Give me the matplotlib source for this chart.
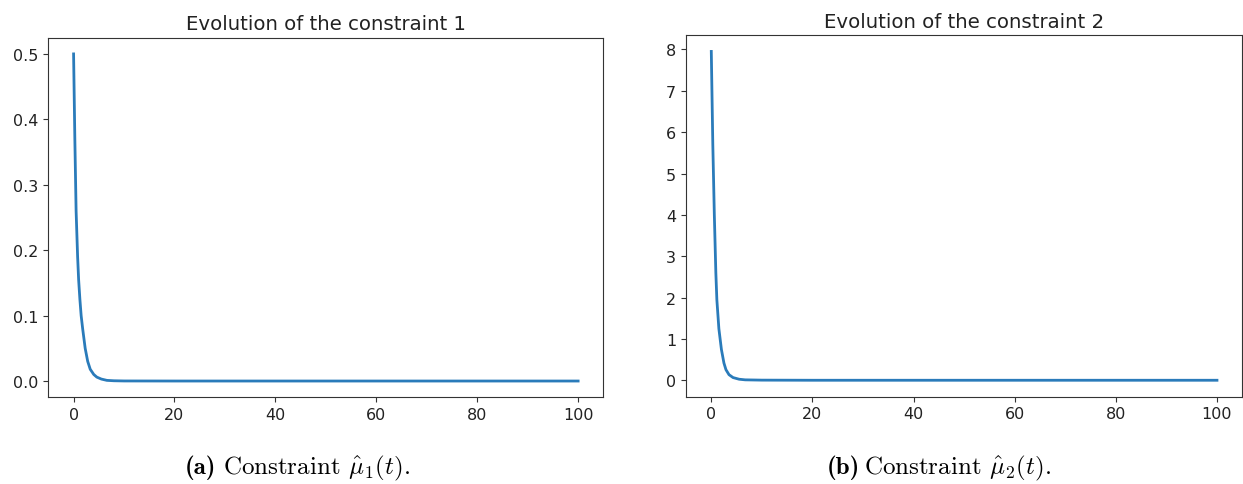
import matplotlib
matplotlib.use("Agg")
import matplotlib.pyplot as plt

plt.rcParams['mathtext.fontset'] = 'cm'

# values
t1 = [0, 0.25, 0.5, 0.8, 1.0, 1.25, 1.5, 1.8, 2.3, 2.8, 3.3, 4.0, 4.6, 5.5, 6.6, 8, 10, 20, 40, 60, 80, 100]
mu1 = [0.5, 0.37, 0.26, 0.19, 0.155, 0.125, 0.1, 0.08, 0.05, 0.03, 0.018, 0.01, 0.006, 0.003, 0.001,
       0.0004, 0.0001, 0.0, 0.0, 0.0, 0.0, 0.0]

t2 = [0, 0.3, 0.6, 0.9, 1.1, 1.5, 2.0, 2.5, 2.9, 3.5, 4.3, 5.5, 6.7, 10, 20, 40, 60, 80, 100]
mu2 = [7.95, 5.7, 4.0, 2.6, 1.95, 1.25, 0.75, 0.42, 0.26, 0.14, 0.07, 0.03, 0.015, 0.008,
       0.005, 0.005, 0.005, 0.005, 0.005]

titles = ["Evolution of the constraint 1", "Evolution of the constraint 2"]
labels = ["(a)", "(b)"]
captions = [r"Constraint $\hat{\mu}_1(t)$.", r"Constraint $\hat{\mu}_2(t)$."]

fig = plt.figure(figsize=(12.43, 4.85), dpi=100)
ax1 = fig.add_axes([0.0389, 0.1786, 0.4465, 0.7419])
ax2 = fig.add_axes([0.5519, 0.18, 0.4475, 0.7458])

for ax, t, mu, title in [(ax1, t1, mu1, titles[0]), (ax2, t2, mu2, titles[1])]:
    ax.plot(t, mu, color='#2a7bba', lw=2)
    ax.set_title(title, fontsize=14.2, color='#222222')
    ax.tick_params(labelsize=11.5, colors='#333333', labelcolor='#222222')
    ax.set_xticks([0, 20, 40, 60, 80, 100])
    for s in ax.spines.values():
        s.set_color('#333333')

ax1.set_yticks([0.0, 0.1, 0.2, 0.3, 0.4, 0.5])
ax2.set_yticks(range(9))

# captions under the panels: bold label, then roman text
for x0, x1, lab, cap in [(185, 223, labels[0], captions[0]), (827, 864, labels[1], captions[1])]:
    fig.text(x0 / 1243, 11 / 485, lab, fontname='cmb10', fontsize=18, va='baseline')
    fig.text(x1 / 1243, 11 / 485, cap, fontname='cmr10', fontsize=18, va='baseline')

fig.savefig("out.png", dpi=100)
